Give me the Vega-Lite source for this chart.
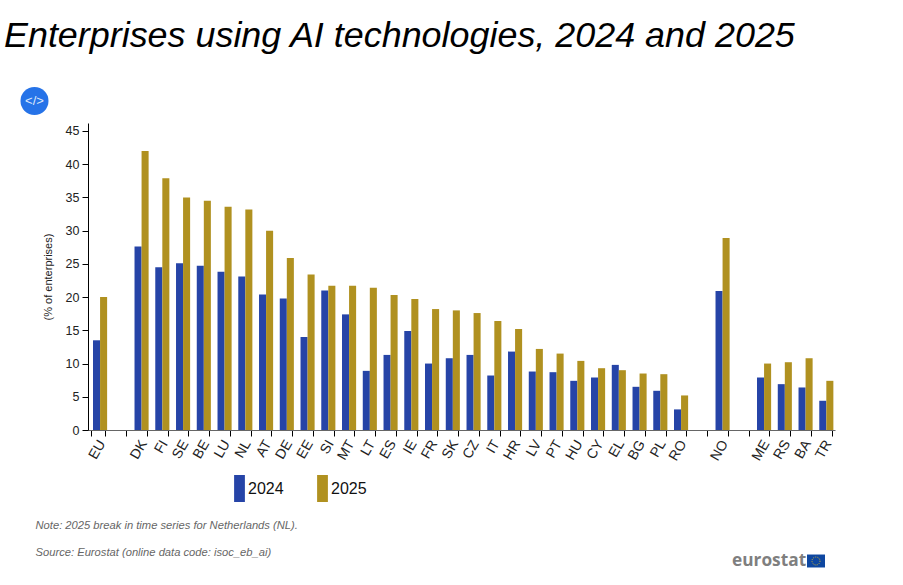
{
  "$schema": "https://vega.github.io/schema/vega-lite/v6.json",
  "width": 747,
  "height": 307,
  "autosize": "none",
  "padding": {"left": 88, "top": 123, "right": 68, "bottom": 155},
  "background": "white",
  "title": {
    "text": "Enterprises using AI technologies, 2024 and 2025",
    "anchor": "start",
    "frame": "group",
    "dx": -84,
    "offset": 32,
    "font": "Liberation Sans",
    "fontSize": 35.9,
    "fontStyle": "italic",
    "fontWeight": "normal",
    "color": "black"
  },
  "config": {"view": {"stroke": "transparent"}, "font": "Liberation Sans"},
  "datasets": {
    "badge": [{"label": "</>"}],
    "logo": [{"label": "eurostat"}],
    "ai": [
      {"geo": "EU", "year": "2024", "pct": 13.5}, {"geo": "EU", "year": "2025", "pct": 20.0},
      {"geo": "DK", "year": "2024", "pct": 27.6}, {"geo": "DK", "year": "2025", "pct": 42.0},
      {"geo": "FI", "year": "2024", "pct": 24.5}, {"geo": "FI", "year": "2025", "pct": 37.9},
      {"geo": "SE", "year": "2024", "pct": 25.1}, {"geo": "SE", "year": "2025", "pct": 35.0},
      {"geo": "BE", "year": "2024", "pct": 24.7}, {"geo": "BE", "year": "2025", "pct": 34.5},
      {"geo": "LU", "year": "2024", "pct": 23.8}, {"geo": "LU", "year": "2025", "pct": 33.6},
      {"geo": "NL", "year": "2024", "pct": 23.1}, {"geo": "NL", "year": "2025", "pct": 33.2},
      {"geo": "AT", "year": "2024", "pct": 20.4}, {"geo": "AT", "year": "2025", "pct": 30.0},
      {"geo": "DE", "year": "2024", "pct": 19.8}, {"geo": "DE", "year": "2025", "pct": 25.9},
      {"geo": "EE", "year": "2024", "pct": 14.0}, {"geo": "EE", "year": "2025", "pct": 23.4},
      {"geo": "SI", "year": "2024", "pct": 21.0}, {"geo": "SI", "year": "2025", "pct": 21.7},
      {"geo": "MT", "year": "2024", "pct": 17.4}, {"geo": "MT", "year": "2025", "pct": 21.7},
      {"geo": "LT", "year": "2024", "pct": 8.9}, {"geo": "LT", "year": "2025", "pct": 21.4},
      {"geo": "ES", "year": "2024", "pct": 11.3}, {"geo": "ES", "year": "2025", "pct": 20.3},
      {"geo": "IE", "year": "2024", "pct": 14.9}, {"geo": "IE", "year": "2025", "pct": 19.7},
      {"geo": "FR", "year": "2024", "pct": 10.0}, {"geo": "FR", "year": "2025", "pct": 18.2},
      {"geo": "SK", "year": "2024", "pct": 10.8}, {"geo": "SK", "year": "2025", "pct": 18.0},
      {"geo": "CZ", "year": "2024", "pct": 11.3}, {"geo": "CZ", "year": "2025", "pct": 17.6},
      {"geo": "IT", "year": "2024", "pct": 8.2}, {"geo": "IT", "year": "2025", "pct": 16.4},
      {"geo": "HR", "year": "2024", "pct": 11.8}, {"geo": "HR", "year": "2025", "pct": 15.2},
      {"geo": "LV", "year": "2024", "pct": 8.8}, {"geo": "LV", "year": "2025", "pct": 12.2},
      {"geo": "PT", "year": "2024", "pct": 8.7}, {"geo": "PT", "year": "2025", "pct": 11.5},
      {"geo": "HU", "year": "2024", "pct": 7.4}, {"geo": "HU", "year": "2025", "pct": 10.4},
      {"geo": "CY", "year": "2024", "pct": 7.9}, {"geo": "CY", "year": "2025", "pct": 9.3},
      {"geo": "EL", "year": "2024", "pct": 9.8}, {"geo": "EL", "year": "2025", "pct": 9.0},
      {"geo": "BG", "year": "2024", "pct": 6.5}, {"geo": "BG", "year": "2025", "pct": 8.5},
      {"geo": "PL", "year": "2024", "pct": 5.9}, {"geo": "PL", "year": "2025", "pct": 8.4},
      {"geo": "RO", "year": "2024", "pct": 3.1}, {"geo": "RO", "year": "2025", "pct": 5.2},
      {"geo": "NO", "year": "2024", "pct": 20.9}, {"geo": "NO", "year": "2025", "pct": 28.9},
      {"geo": "ME", "year": "2024", "pct": 7.9}, {"geo": "ME", "year": "2025", "pct": 10.0},
      {"geo": "RS", "year": "2024", "pct": 6.9}, {"geo": "RS", "year": "2025", "pct": 10.2},
      {"geo": "BA", "year": "2024", "pct": 6.4}, {"geo": "BA", "year": "2025", "pct": 10.8},
      {"geo": "TR", "year": "2024", "pct": 4.4}, {"geo": "TR", "year": "2025", "pct": 7.4}
    ]
  },
  "resolve": {"scale": {"x": "independent", "y": "independent"}},
  "layer": [
    {
      "data": {"name": "ai"},
      "mark": {"type": "bar"},
      "encoding": {
        "x": {
          "field": "geo",
          "type": "nominal",
          "sort": null,
          "scale": {
            "domain": ["EU", " ", "DK", "FI", "SE", "BE", "LU", "NL", "AT", "DE", "EE", "SI", "MT", "LT", "ES", "IE", "FR", "SK", "CZ", "IT", "HR", "LV", "PT", "HU", "CY", "EL", "BG", "PL", "RO", "  ", "NO", "   ", "ME", "RS", "BA", "TR"],
            "paddingInner": 0.32,
            "paddingOuter": 0.16
          },
          "axis": {
            "title": ["Note: 2025 break in time series for Netherlands (NL).", "Source: Eurostat (online data code: isoc_eb_ai)"],
            "titleX": -53,
            "titleY": 95,
            "titleAlign": "left",
            "titleBaseline": "middle",
            "titleFont": "Liberation Sans",
            "titleFontSize": 11.2,
            "titleFontStyle": "italic",
            "titleFontWeight": "normal",
            "titleColor": "#666666",
            "titleLineHeight": 27,
            "labelAngle": -60,
            "labelAlign": "right",
            "labelBaseline": "middle",
            "labelFontSize": 14,
            "labelColor": "#222222",
            "labelPadding": 5,
            "labelOffset": 3.5,
            "tickBand": "extent",
            "tickSize": 6,
            "tickColor": "black",
            "domainColor": "#666666",
            "grid": false
          }
        },
        "xOffset": {"field": "year", "type": "nominal", "scale": {"range": [1.7, 15.8], "paddingInner": 0, "paddingOuter": 0}},
        "y": {
          "field": "pct",
          "type": "quantitative",
          "scale": {"domain": [0, 46.2], "nice": false},
          "axis": {
            "title": "(% of enterprises)",
            "titleFontSize": 11,
            "titleFontWeight": "normal",
            "titleColor": "#222222",
            "titlePadding": 12,
            "values": [0, 5, 10, 15, 20, 25, 30, 35, 40, 45],
            "labelFontSize": 12.5,
            "labelColor": "#222222",
            "labelPadding": 3,
            "tickSize": 6,
            "tickColor": "black",
            "domainColor": "black",
            "grid": false
          }
        },
        "color": {
          "field": "year",
          "type": "nominal",
          "scale": {"domain": ["2024", "2025"], "range": ["#2644A7", "#B09120"]},
          "legend": {
            "title": null,
            "orient": "none",
            "legendX": 138,
            "legendY": 352,
            "direction": "horizontal",
            "symbolType": "M-0.4,-1H0.4V1H-0.4Z",
            "symbolSize": 729,
            "symbolStrokeWidth": 0,
            "labelFontSize": 16,
            "labelColor": "#111111",
            "labelOffset": -5,
            "columnPadding": 25
          }
        }
      }
    },
    {
      "data": {"name": "badge"},
      "mark": {"type": "point", "filled": true, "shape": "circle", "size": 784, "color": "#2673E8", "opacity": 1},
      "encoding": {
        "x": {"datum": -53.5, "type": "quantitative", "scale": {"domain": [0, 747]}, "axis": null},
        "y": {"datum": 329, "type": "quantitative", "scale": {"domain": [0, 307]}, "axis": null}
      }
    },
    {
      "data": {"name": "badge"},
      "mark": {"type": "text", "color": "#DCE8FB", "fontSize": 13, "align": "center", "baseline": "middle"},
      "encoding": {
        "text": {"field": "label", "type": "nominal"},
        "x": {"datum": -53.5, "type": "quantitative", "scale": {"domain": [0, 747]}, "axis": null},
        "y": {"datum": 329, "type": "quantitative", "scale": {"domain": [0, 307]}, "axis": null}
      }
    },
    {
      "data": {"name": "logo"},
      "mark": {"type": "text", "color": "#7F7F7F", "fontSize": 17.3, "fontWeight": "bold", "font": "Open Sans", "align": "left", "baseline": "middle"},
      "encoding": {
        "text": {"field": "label", "type": "nominal"},
        "x": {"datum": 644, "type": "quantitative", "scale": {"domain": [0, 747]}, "axis": null},
        "y": {"datum": -131, "type": "quantitative", "scale": {"domain": [0, 307]}, "axis": null}
      }
    },
    {
      "data": {"name": "logo"},
      "mark": {"type": "point", "filled": true, "shape": "M-1,-0.72H1V0.72H-1Z", "size": 324, "color": "#0E47A1", "opacity": 1},
      "encoding": {
        "x": {"datum": 728, "type": "quantitative", "scale": {"domain": [0, 747]}, "axis": null},
        "y": {"datum": -131, "type": "quantitative", "scale": {"domain": [0, 307]}, "axis": null}
      }
    },
    {
      "data": {"name": "logo"},
      "mark": {"type": "point", "filled": false, "shape": "circle", "size": 64, "color": "#D9B92E", "strokeWidth": 1, "strokeDash": [1, 1.2], "opacity": 1},
      "encoding": {
        "x": {"datum": 728, "type": "quantitative", "scale": {"domain": [0, 747]}, "axis": null},
        "y": {"datum": -131, "type": "quantitative", "scale": {"domain": [0, 307]}, "axis": null}
      }
    }
  ]
}
